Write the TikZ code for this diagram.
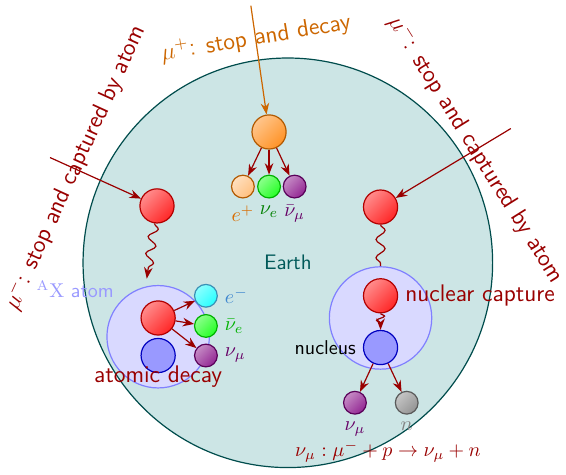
\documentclass[tikz,border=0pt]{standalone}
\usepackage{amsmath}
\usepackage{xcolor}
\usepackage{tikz}
\usetikzlibrary{arrows.meta,decorations.pathmorphing}

\colorlet{mured}{red!60!black}
\colorlet{muorange}{orange!80!black}

\begin{document}
\begin{tikzpicture}[font=\sffamily,
    ball/.style={circle,draw=#1!70!black,semithick,top color=#1!45,bottom color=#1!85,shading angle=45,minimum size=6mm,inner sep=0pt},
    lepton/.style={ball=#1,minimum size=4mm},
    nucleusball/.style={circle,draw=blue!75!black,semithick,fill=blue!40,minimum size=6mm,inner sep=0pt},
    atomring/.style={circle,draw=blue!50,semithick,fill=blue!15,minimum size=18mm,inner sep=0pt},
    decayarrow/.style={mured,semithick,-Stealth},
    wavy/.style={mured,semithick,decorate,decoration={snake,amplitude=.8mm,segment length=3mm,post length=1mm}}]
                \useasboundingbox (-5.06,-3.73) rectangle (4.89,4.62);

                % Earth
                \draw[teal!60!black,semithick,fill=teal!20] (0,0) circle (3.6);
                \node[teal!70!black,font=\fontsize{10.5}{12}\sffamily] (earth) at (0,0) {Earth};

                % mu+ stops and decays
                \coordinate (mupin) at (-0.65,4.52);
                \node[ball=orange] (mup) at (-0.33,2.30) {};
                \draw[muorange,semithick,-Stealth] (mupin) -- (mup);
                \node[muorange,font=\large\sffamily,rotate=9.5] (muplabel) at (-0.56,3.95) {$\mu^+$: stop and decay};
                \node[lepton=orange,top color=orange!25,bottom color=orange!50,shading angle=45,
                      label={[orange!85!black]below:$e^+$}] (ep) at (-0.79,1.34) {};
                \node[lepton=green,label={[green!50!black]below:$\nu_e$}] (nue) at (-0.33,1.34) {};
                \node[lepton=violet,label={[violet!80!black]below:$\bar\nu_\mu$}] (nubmu) at (0.12,1.34) {};
                \draw[decayarrow] (mup) -- (ep);
                \draw[decayarrow] (mup) -- (nue);
                \draw[decayarrow] (mup) -- (nubmu);

                % mu- captured by atom, atomic decay
                \coordinate (lmuin) at (-4.18,1.85);
                \node[mured,font=\large\sffamily,rotate=65.5] (lmulabel) at (-3.74,1.67) {$\mu^-$: stop and captured by atom};
                \node[ball=red] (lmu) at (-2.30,1.00) {};
                \draw[decayarrow] (lmuin) -- (lmu);
                \node[atomring] (latom) at (-2.28,-1.30) {};
                \node[blue!40] (atomlabel) at (-3.74,-0.46) {$^{\mathrm{A}}\mathrm{X}$ atom};
                \coordinate (lmuend) at (-2.48,-0.28);
                \draw[wavy,-Stealth] (lmu) -- (lmuend);
                \node[ball=red] (lcap) at (-2.28,-0.97) {};
                \node[nucleusball] (lnuc) at (-2.28,-1.63) {};
                \node[lepton=cyan,label={[cyan!55!blue!80]right:$e^-$}] (em) at (-1.44,-0.58) {};
                \node[lepton=green,label={[green!70!black]right:$\bar\nu_e$}] (nube) at (-1.44,-1.11) {};
                \node[lepton=violet,label={[violet!80!black]right:$\nu_\mu$}] (lnumu) at (-1.44,-1.63) {};
                \draw[decayarrow] (lcap) -- (em);
                \draw[decayarrow] (lcap) -- (nube);
                \draw[decayarrow] (lcap) -- (lnumu);
                \node[mured,font=\large\sffamily] (atomdecay) at (-2.28,-2.00) {atomic decay};

                % mu- captured by atom, nuclear capture
                \coordinate (rmuin) at (3.92,2.36);
                \node[mured,font=\large\sffamily,rotate=-58] (rmulabel) at (3.31,1.99) {$\mu^-$: stop and captured by atom};
                \node[ball=red] (rmu) at (1.63,0.98) {};
                \draw[decayarrow] (rmuin) -- (rmu);
                \node[atomring] (ratom) at (1.63,-0.97) {};
                \draw[wavy,decoration={segment length=3.2mm,post length=0mm}] (rmu) -- (ratom);
                \node[ball=red] (rcap) at (1.63,-0.58) {};
                \node[nucleusball] (rnuc) at (1.63,-1.49) {};
                \draw[wavy,-Stealth,decoration={segment length=1.5mm,amplitude=.7mm,post length=1.2mm}] (rcap) -- (rnuc);
                \node[mured,font=\large\sffamily,anchor=west] (capture) at (rcap.east) {nuclear capture};
                \node[anchor=east] (nucleus) at (rnuc.west) {nucleus};
                \node[lepton=violet,label={[violet!80!black]below:$\nu_\mu$}] (rnumu) at (1.18,-2.46) {};
                \node[lepton=gray,label={[gray]below:$n$}] (neutron) at (2.09,-2.46) {};
                \draw[decayarrow] (rnuc) -- (rnumu);
                \draw[decayarrow] (rnuc) -- (neutron);
                \node[mured,font=\fontsize{10.4}{12}\selectfont] (capeq) at (1.76,-3.32) {$\nu_\mu : \mu^- + p \rightarrow \nu_\mu + n$};
            \end{tikzpicture}
\end{document}
